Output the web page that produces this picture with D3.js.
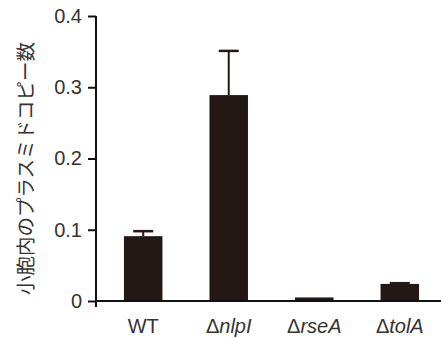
<!DOCTYPE html>
<html>
<head>
<meta charset="utf-8">
<script src="https://cdn.jsdelivr.net/npm/d3@7"></script>
<style>
  body { margin: 0; background: #fff; }
  text { font-family: "Liberation Sans", Arial, sans-serif; fill: #333; }
</style>
</head>
<body>
<div id="chart"></div>
<script>
// data
var categories = ["WT", "nlpI", "rseA", "tolA"];
var values = [0.091, 0.289, 0.005, 0.024];
var errors = [0.007, 0.062, 0.0, 0.001];
var yTicks = [0, 0.1, 0.2, 0.3, 0.4];
var yLabel = "小胞内のプラスミドコピー数";

var width = 441, height = 338;
var margin = {top: 16, right: 0, bottom: 37, left: 96};

var svg = d3.select("#chart").append("svg")
    .attr("width", width)
    .attr("height", height);

var y = d3.scaleLinear().domain([0, 0.4]).range([height - margin.bottom, margin.top]);
var x = d3.scaleBand().domain(categories).range([100, 443]).paddingInner(0.55).paddingOuter(0.28);

//bars
svg.selectAll("rect.bar")
    .data(categories)
    .enter().append("rect")
    .attr("class", "bar")
    .attr("x", function (d) { return x(d); })
    .attr("width", x.bandwidth())
    .attr("y", function (d, i) { return y(values[i]); })
    .attr("height", function (d, i) { return y(0) - y(values[i]); })
    .attr("fill", "#231815");

//error bars
var err = svg.selectAll("g.err")
    .data(categories)
    .enter().append("g")
    .attr("class", "err")
    .filter(function (d, i) { return errors[i] > 0; });
err.append("line")
    .attr("x1", function (d) { return x(d) + x.bandwidth() / 2; })
    .attr("x2", function (d) { return x(d) + x.bandwidth() / 2; })
    .attr("y1", function (d) { return y(values[categories.indexOf(d)]); })
    .attr("y2", function (d) { var i = categories.indexOf(d); return y(values[i] + errors[i]); })
    .attr("stroke", "#231815").attr("stroke-width", 2);
err.append("line")
    .attr("x1", function (d) { return x(d) + x.bandwidth() / 2 - 10; })
    .attr("x2", function (d) { return x(d) + x.bandwidth() / 2 + 10; })
    .attr("y1", function (d) { var i = categories.indexOf(d); return y(values[i] + errors[i]); })
    .attr("y2", function (d) { var i = categories.indexOf(d); return y(values[i] + errors[i]); })
    .attr("stroke", "#231815").attr("stroke-width", 2.5);

//y axis
var yAxis = d3.axisLeft(y).tickValues(yTicks).tickSize(8).tickPadding(6)
    .tickFormat(function (d) { return d === 0 ? "0" : d3.format(".1f")(d); });
var gy = svg.append("g")
    .attr("transform", "translate(" + margin.left + ",0)")
    .call(yAxis);
gy.attr("font-size", null).attr("font-family", null);
gy.select(".domain").attr("d", "M0," + y(0.4) + "V" + (y(0) + 6)).attr("stroke", "#111").attr("stroke-width", 2);
gy.selectAll(".tick line").attr("stroke", "#111").attr("stroke-width", 2);
gy.selectAll(".tick text").style("font-size", "20px").style("fill", "#333");

//x axis line
svg.append("line")
    .attr("x1", margin.left - 1).attr("x2", width)
    .attr("y1", y(0)).attr("y2", y(0))
    .attr("stroke", "#111").attr("stroke-width", 2);

//x labels
var xl = svg.selectAll("text.xl")
    .data(categories)
    .enter().append("text")
    .attr("class", "xl")
    .attr("x", function (d) { return x(d) + x.bandwidth() / 2; })
    .attr("y", 333)
    .attr("text-anchor", "middle")
    .style("font-size", "20px");
xl.each(function (d) {
    var t = d3.select(this);
    if (d === "WT") { t.text(d); return; }
    t.append("tspan").text("Δ");
    t.append("tspan").style("font-style", "italic").text(d);
});

//y label
svg.append("text")
    .attr("transform", "translate(33," + ((y(0) + y(0.4)) / 2 + 10) + ") rotate(-90)")
    .attr("text-anchor", "middle")
    .style("font-family", "'Noto Sans CJK JP', sans-serif")
    .style("font-size", "19.5px")
    .text(yLabel);
</script>
</body>
</html>
